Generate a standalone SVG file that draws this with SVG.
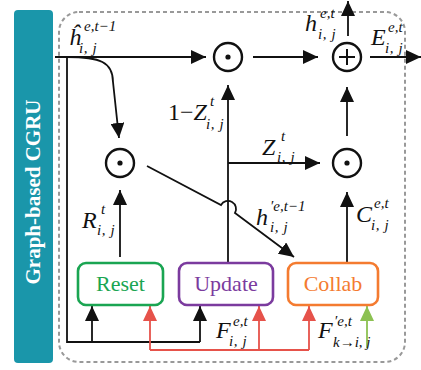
<svg xmlns="http://www.w3.org/2000/svg" width="421" height="370" viewBox="0 0 421 370">
  <defs>
    <marker id="ah" markerUnits="userSpaceOnUse" markerWidth="16" markerHeight="14" refX="15" refY="7" orient="auto">
      <path d="M0,0 L15,7 L0,14 z" fill="#111"/>
    </marker>
    <marker id="ahRed" markerUnits="userSpaceOnUse" markerWidth="16" markerHeight="14" refX="15" refY="7" orient="auto">
      <path d="M0,0 L15,7 L0,14 z" fill="#e6524a"/>
    </marker>
    <marker id="ahGreen" markerUnits="userSpaceOnUse" markerWidth="16" markerHeight="14" refX="15" refY="7" orient="auto">
      <path d="M0,0 L15,7 L0,14 z" fill="#8cc152"/>
    </marker>
  </defs>
  <style>
    .wire { fill: none; stroke: #111; stroke-width: 1.8; }
    .wire.red { stroke: #e6524a; }
    .wire.green { stroke: #8cc152; }
    .op { fill: #fff; stroke: #111; stroke-width: 2.4; }
    .box { fill: #fff; stroke-width: 2.6; }
    text { font-family: "Liberation Serif", "Times New Roman", "DejaVu Serif", serif; }
    .lbl { font-size: 22px; text-anchor: middle; }
    .m { font-style: italic; font-size: 24px; fill: #111; }
    .s { font-style: italic; font-size: 15px; fill: #111; }
    .s.ij { letter-spacing: 0.6px; }
    .up { font-style: normal; }
    .title { font-weight: bold; font-size: 21px; fill: #fff; text-anchor: middle; }
  </style>

  <!-- side banner -->
  <g id="banner">
    <rect x="14" y="10" width="39" height="353" rx="4" fill="#1a96aa"/>
    <text class="title" transform="translate(40,192) rotate(-90)">Graph-based CGRU</text>
  </g>

  <!-- cell boundary -->
  <rect id="cell" x="59" y="12" width="346" height="350" rx="20" fill="none" stroke="#999" stroke-width="2" stroke-dasharray="4,3"/>

  <!-- connectors -->
  <g id="connectors">
    <path class="wire" d="M55,57 H206" marker-end="url(#ah)"/>
    <path class="wire" d="M253,57 H318" marker-end="url(#ah)"/>
    <path class="wire" d="M348,36 V1" marker-end="url(#ah)"/>
    <path class="wire" d="M370,57 H421" marker-end="url(#ah)"/>
    <path class="wire" d="M347,136 V87" marker-end="url(#ah)"/>
    <path class="wire" d="M228,163 H320" marker-end="url(#ah)"/>
    <path class="wire" d="M228,262 V85" marker-end="url(#ah)"/>
    <path class="wire" d="M67,57 C100,57 113,62 113,82 L119,138" marker-end="url(#ah)"/>
    <path class="wire" d="M120,257 V190" marker-end="url(#ah)"/>
    <path class="wire" d="M147,166 L221,205 A7.5,7.5 0 0 1 235,213 L294,257" marker-end="url(#ah)"/>
    <path class="wire" d="M347,263 V192" marker-end="url(#ah)"/>
    <path class="wire" d="M67,57 V342 H200"/>
    <path class="wire" d="M92,342 V306" marker-end="url(#ah)"/>
    <path class="wire" d="M200,342 V306" marker-end="url(#ah)"/>
    <path class="wire red" d="M150,350 H309"/>
    <path class="wire red" d="M150,350 V306" marker-end="url(#ahRed)"/>
    <path class="wire red" d="M259,350 V306" marker-end="url(#ahRed)"/>
    <path class="wire red" d="M309,350 V306" marker-end="url(#ahRed)"/>
    <path class="wire green" d="M367,348 V306" marker-end="url(#ahGreen)"/>
  </g>

  <!-- operators -->
  <g id="mul-top">
    <circle class="op" cx="228" cy="57" r="14"/>
    <circle cx="228" cy="57" r="2.6" fill="#111"/>
  </g>
  <g id="add-top">
    <circle class="op" cx="347" cy="57" r="14"/>
    <path d="M339,57 H355 M347,49 V65" stroke="#111" stroke-width="2"/>
  </g>
  <g id="mul-reset">
    <circle class="op" cx="120" cy="163" r="14"/>
    <circle cx="120" cy="163" r="2.6" fill="#111"/>
  </g>
  <g id="mul-collab">
    <circle class="op" cx="347" cy="163" r="14"/>
    <circle cx="347" cy="163" r="2.6" fill="#111"/>
  </g>

  <!-- gates -->
  <g id="reset">
    <rect class="box" x="78" y="263" width="85" height="42" rx="8" stroke="#1aa552"/>
    <text class="lbl" x="120.5" y="291" fill="#1aa552">Reset</text>
  </g>
  <g id="update">
    <rect class="box" x="179" y="263" width="94" height="42" rx="8" stroke="#7b3b9e"/>
    <text class="lbl" x="226" y="291" fill="#7b3b9e">Update</text>
  </g>
  <g id="collab">
    <rect class="box" x="288" y="263" width="90" height="42" rx="8" stroke="#f47b30"/>
    <text class="lbl" x="333" y="291" fill="#f47b30">Collab</text>
  </g>

  <!-- signal labels -->
  <g id="labels">
    <text class="m" x="69" y="45">ĥ</text>
    <text class="s" x="84" y="31">e,t−1</text>
    <text class="s ij" x="79" y="53">i, j</text>

    <text class="m" x="168" y="120"><tspan class="up">1−</tspan>Z</text>
    <text class="s" x="210" y="106">t</text>
    <text class="s ij" x="206" y="129">i, j</text>

    <text class="m" x="262" y="155">Z</text>
    <text class="s" x="281" y="141">t</text>
    <text class="s ij" x="277" y="162">i, j</text>

    <text class="m" x="305" y="31">h</text>
    <text class="s" x="320" y="18">e,t</text>
    <text class="s ij" x="318" y="39">i, j</text>

    <text class="m" x="371" y="45">E</text>
    <text class="s" x="388" y="32">e,t</text>
    <text class="s ij" x="385" y="53">i, j</text>

    <text class="m" x="82" y="228">R</text>
    <text class="s" x="101" y="214">t</text>
    <text class="s ij" x="97" y="235">i, j</text>

    <text class="m" x="356" y="222">C</text>
    <text class="s" x="374" y="208">e,t</text>
    <text class="s ij" x="371" y="230">i, j</text>

    <text class="m" x="256" y="225">h</text>
    <text class="s" x="270" y="211">′e,t−1</text>
    <text class="s ij" x="270" y="232">i, j</text>

    <text class="m" x="216" y="338">F</text>
    <text class="s" x="233" y="326">e,t</text>
    <text class="s ij" x="229" y="346">i, j</text>

    <text class="m" x="318" y="338">F</text>
    <text class="s" x="334" y="326">′e,t</text>
    <text class="s" x="333" y="347" font-size="12">k→i, j</text>
  </g>
</svg>
